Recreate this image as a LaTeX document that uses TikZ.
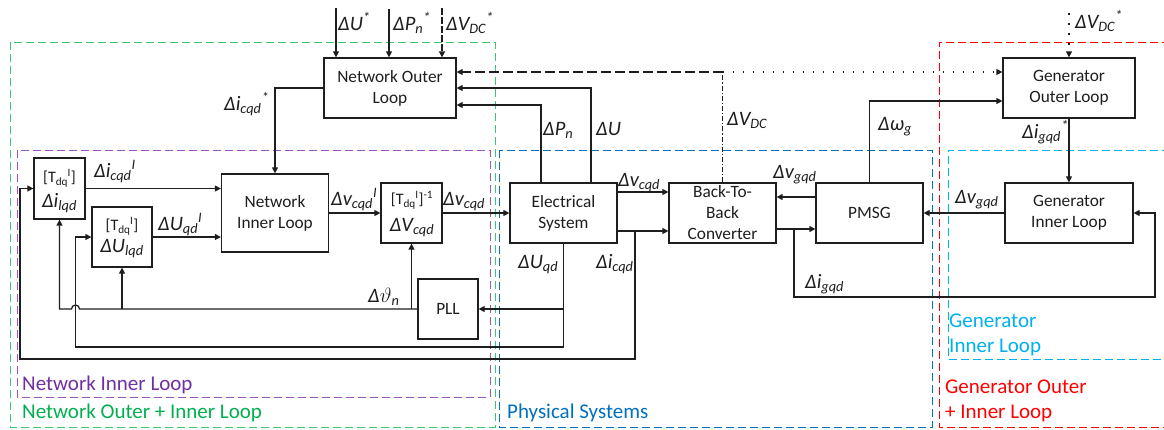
\documentclass[tikz,border=0pt]{standalone}
\usepackage{fontspec}
\setmainfont{Carlito}
\usetikzlibrary{arrows.meta}
\definecolor{ngreen}{RGB}{0,176,80}
\definecolor{ngreenln}{RGB}{60,200,110}
\definecolor{npurple}{RGB}{112,48,160}
\definecolor{npurpleln}{RGB}{155,85,195}
\definecolor{pblue}{RGB}{0,112,192}
\definecolor{gcyan}{RGB}{0,176,240}
\definecolor{gred}{RGB}{255,0,0}
\definecolor{ln}{RGB}{30,30,30}
\newcommand{\sbs}[1]{\textsubscript{#1}}
\newcommand{\sps}[1]{\textsuperscript{#1}}
\newcommand{\tdq}{[T\sbs{dq}\kern-0.5bp\sps{I}]}
\tikzset{
  blk/.style={draw=ln, line width=1.25bp, fill=white, inner sep=0pt, align=center,
              font=\fontsize{17.3bp}{21bp}\selectfont, text=ln},
  wire/.style={draw=ln, line width=1.25bp},
  arr/.style={wire, -{Triangle[length=6bp,width=6bp]}},
  sig/.style={font=\fontsize{20.5bp}{24bp}\selectfont\itshape, inner sep=0pt, anchor=base west, text=ln},
  boxsm/.style={font=\fontsize{16bp}{19bp}\selectfont, inner sep=0pt, text=ln},
  boxbig/.style={font=\fontsize{20.5bp}{24bp}\selectfont\itshape, inner sep=0pt, text=ln},
  region/.style={dash pattern=on 8bp off 4bp, line width=1bp},
  rlabel/.style={font=\fontsize{21bp}{25bp}\selectfont, inner sep=0pt, anchor=west},
  longdash/.style={dash pattern=on 10bp off 4bp},
  dashdotline/.style={dash pattern=on 5bp off 2bp on 1.2bp off 2bp},
  dotline/.style={dash pattern=on 1.5bp off 8.5bp},
  finedash/.style={dash pattern=on 7bp off 2bp},
}
\begin{document}
\begin{tikzpicture}[x=1bp,y=-1bp]
\useasboundingbox (0,0) rectangle (1164,429);
\fill[white] (0,0) rectangle (1164,429);

% regions
\draw[region, ngreenln] (10,42) rectangle (495,427);
\draw[region, npurpleln] (17,150) rectangle (490,397);
\draw[region, pblue] (499,150) rectangle (932,427);
\draw[region, gcyan] (1170,150) -- (948,150) -- (948,359) -- (1170,359);
\draw[region, gred] (1170,42) -- (939,42) -- (939,427) -- (1170,427);

\node[rlabel, text=npurple] (lbNI) at (22,385) {Network Inner Loop};
\node[rlabel, text=ngreen] (lbNO) at (22,413) {Network Outer + Inner Loop};
\node[rlabel, text=pblue] (lbPS) at (507,413) {Physical Systems};
\node[rlabel, text=gcyan, align=left] (lbGI) at (949,335) {Generator\\Inner Loop};
\node[rlabel, text=gred, align=left] (lbGO) at (945,400.5) {Generator Outer\\+ Inner Loop};

% blocks
\node[blk, minimum width=132bp, minimum height=60bp] (nol) at (390,88) {Network Outer\\Loop};
\node[blk, minimum width=51bp, minimum height=61bp] (ti) at (59.5,188.5) {};
\node[blk, minimum width=60bp, minimum height=60bp] (tu) at (122,237) {};
\node[blk, minimum width=107bp, minimum height=78bp] (nil) at (275,213) {Network\\Inner Loop};
\node[blk, minimum width=61bp, minimum height=60bp] (tinv) at (411.5,213) {};
\node[blk, minimum width=60bp, minimum height=60bp] (pll) at (448,309) {PLL};
\node[blk, minimum width=107bp, minimum height=60bp] (es) at (563.5,213) {Electrical\\System};
\node[blk, minimum width=107bp, minimum height=60bp] (btb) at (722.5,213) {Back-To-\\Back\\Converter};
\node[blk, minimum width=107bp, minimum height=60bp] (pmsg) at (869.5,213) {PMSG};
\node[blk, minimum width=132bp, minimum height=60bp] (gol) at (1069,88) {Generator\\Outer Loop};
\node[blk, minimum width=128bp, minimum height=60bp] (gil) at (1069,213) {Generator\\Inner Loop};

% text inside transform boxes
\node[boxsm] (tit) at (59.5,178) {\tdq};
\node[boxbig] (tib) at (59.5,203) {Δi\sbs{lqd}};
\node[boxsm] (tut) at (122,226) {\tdq};
\node[boxbig] (tub) at (122,249) {ΔU\sbs{lqd}};
\node[boxsm] (tvt) at (412,200) {\tdq\sps{-1}};
\node[boxbig] (tvb) at (412,228) {ΔV\sbs{cqd}};

% free ends
\coordinate (inU) at (336,8);
\coordinate (inP) at (389,9);
\coordinate (inV) at (442,8);
\coordinate (inG) at (1069,13);

% reference inputs
\draw[arr] (inU) -- (inU |- nol.north);
\draw[arr] (inP) -- (inP |- nol.north);
\draw[arr, finedash] (inV) -- (inV |- nol.north);
\draw[arr, dotline] (inG) -- (gol.north);

% DC voltage feedback
\coordinate (vdc) at (btb.north |- 0,72);
\draw[wire, dashdotline] (btb.north) -- (vdc);
\draw[arr, longdash] (vdc) -- (nol.east |- vdc);
\draw[arr, dotline] (vdc) -- (gol.west |- vdc);

% Electrical system feedback to outer loop
\draw[arr] (es.north -| 541,0) -- (541,105) -- (nol.east |- 541,105);
\draw[arr] (es.north -| 591,0) -- (591,88) -- (nol.east);
\draw[arr] (pmsg.north) -- (pmsg.north |- 0,101) -- (gol.west |- 0,101);

% network chain
\draw[arr] (nol.west) -- (nil.north |- nol.west) -- (nil.north);
\draw[arr] (ti.east) -- (nil.west |- ti.east);
\draw[arr] (tu.east) -- (nil.west |- tu.east);
\draw[arr] (nil.east) -- (tinv.west);
\draw[arr] (tinv.east) -- (es.west);

% physical chain
\draw[arr] (es.east |- 0,192) -- (btb.west |- 0,192);
\draw[arr] (es.east |- 0,231) -- (btb.west |- 0,231);
\draw[arr] (pmsg.west |- 0,197) -- (btb.east |- 0,197);
\draw[arr] (btb.east |- 0,229) -- (pmsg.west |- 0,229);
\draw[arr] (gil.west) -- (pmsg.east);
\draw[arr] (gol.south) -- (gil.north);

% generator current feedback
\draw[arr] (794,229) -- (794,297) -- (1155,297) -- (1155,213) -- (gil.east);

% network current feedback
\draw[arr] (635,231) -- (635,359) -- (20,359) -- (20,188.5) -- (ti.west);

% voltage feedback
\draw[arr] (es.south) -- (es.south |- 0,347) -- (75.5,347) -- (75.5,237) -- (tu.west);
\draw[arr] (es.south |- pll.east) -- (pll.east);

% PLL angle
\draw[arr] (pll.west) -- (79.5,309) arc[start angle=0, end angle=180, radius=4bp] -- (ti.south |- pll.west) -- (ti.south);
\draw[arr] (tu.south |- pll.west) -- (tu.south);
\draw[arr] (tinv.south |- pll.west) -- (tinv.south);

% signal labels
\node[sig] (lU) at (338,30) {ΔU\sps{*}};
\node[sig] (lP) at (393,30) {ΔP\sbs{n}\sps{*}};
\node[sig] (lV) at (446,30) {ΔV\sbs{DC}\sps{*}};
\node[sig] (lic) at (224,110) {Δi\sbs{cqd}\sps{*}};
\node[sig] (lPn) at (543,135) {ΔP\sbs{n}};
\node[sig] (lUn) at (596,135) {ΔU};
\node[sig] (lVdc) at (727,125) {ΔV\sbs{DC}};
\node[sig] (lw) at (878,130) {Δω\sbs{g}};
\node[sig] (lVg) at (1075,28) {ΔV\sbs{DC}\sps{*}};
\node[sig] (lig) at (1022,138) {Δi\sbs{gqd}\sps{*}};
\node[sig] (licI) at (94,177) {Δi\sbs{cqd}\sps{I}};
\node[sig] (luI) at (158,230) {ΔU\sbs{qd}\sps{I}};
\node[sig] (lvI) at (331,205) {Δv\sbs{cqd}\sps{I}};
\node[sig] (lv1) at (443,205) {Δv\sbs{cqd}};
\node[sig] (lv2) at (618,186) {Δv\sbs{cqd}};
\node[sig] (lvg1) at (773,178) {Δv\sbs{gqd}};
\node[sig] (lvg2) at (955,203) {Δv\sbs{gqd}};
\node[sig] (lth) at (368,302) {Δ$\vartheta$\sbs{n}};
\node[sig] (luq) at (518,268) {ΔU\sbs{qd}};
\node[sig] (liq) at (596,268) {Δi\sbs{cqd}};
\node[sig] (ligq) at (805,288) {Δi\sbs{gqd}};
\end{tikzpicture}
\end{document}
